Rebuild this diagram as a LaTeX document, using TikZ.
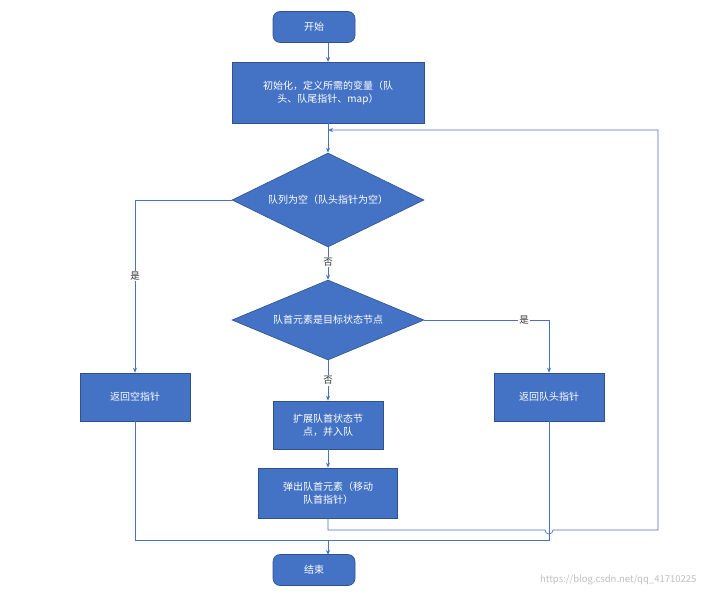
\documentclass[tikz,border=0pt]{standalone}
\usepackage{fontspec}
\setmainfont{Noto Sans CJK SC}
\usetikzlibrary{shapes.geometric,arrows.meta}
\definecolor{bx}{HTML}{4472C4}
\definecolor{bd}{HTML}{2F528F}
\definecolor{ln}{HTML}{4A72C0}
\begin{document}
\begin{tikzpicture}[x=1pt,y=-1pt,
  base/.style={fill=bx,draw=bd,line width=0.6pt,text=white,font=\fontsize{10}{13}\selectfont,align=center,inner sep=0pt},
  term/.style={base,rounded corners=7pt,minimum width=82pt,minimum height=31pt},
  proc/.style={base,minimum width=#1,minimum height=48pt},
  dec/.style={base,diamond,aspect=2.04},
  ar/.style={draw=ln,line width=0.7pt,-{Stealth[length=5pt,width=4pt]}},
  li/.style={draw=ln,line width=0.7pt},
  lb/.style={font=\fontsize{9.5}{11}\selectfont,text=black!80,fill=white,inner sep=1pt}]
\useasboundingbox (0,0) rectangle (706,596);
\node[term] (s) at (314,27) {开始};
\node[proc=192pt,minimum height=61pt,text width=182pt] (i) at (328,92.5) {初始化，定义所需的变量（队\\头、队尾指针、map）};
\node[dec,minimum width=192pt,minimum height=94pt] (d1) at (328,200) {队列为空（队头指针为空）};
\node[dec,minimum width=192pt,minimum height=80pt] (d2) at (328,320) {队首元素是目标状态节点};
\node[proc=110pt] (n) at (135,397) {返回空指针};
\node[proc=110pt] (h) at (549,397) {返回队头指针};
\node[proc=110pt,text width=100pt] (x) at (328,425) {扩展队首状态节\\点，并入队};
\node[proc=139pt,minimum height=50pt,text width=130pt] (p) at (328,493) {弹出队首元素（移动\\队首指针）};
\node[term] (e) at (314,570) {结束};
\coordinate (t1) at (328,43);
\draw[ar] (t1) -- (328,62);
\draw[ar] (i) -- (d1);
\draw[ar] (d1.west) -| node[lb,pos=0.72] {是} (n.north);
\draw[ar] (d1.south) -- node[lb,pos=0.45] {否} (d2.north);
\draw[ar] (d2.east) -| node[lb,pos=0.4] {是} (h.north);
\draw[ar] (d2.south) -- node[lb,pos=0.5] {否} (x.north);
\draw[ar] (x) -- (p);
\draw[ar] (p.south) -- (328,530) -- (545,530) arc[start angle=180,end angle=0,radius=4] -- (658,530) -- (658,130) -- (328,130);
\draw[li] (n.south) -- (135,540) -- (549,540) -- (h.south);
\draw[ar] (328,540) -- (328,555);
\node[font=\fontsize{9.5}{11}\selectfont,text=black!25,anchor=east] (w) at (700,580) {https://blog.csdn.net/qq\_41710225};
\end{tikzpicture}
\end{document}
